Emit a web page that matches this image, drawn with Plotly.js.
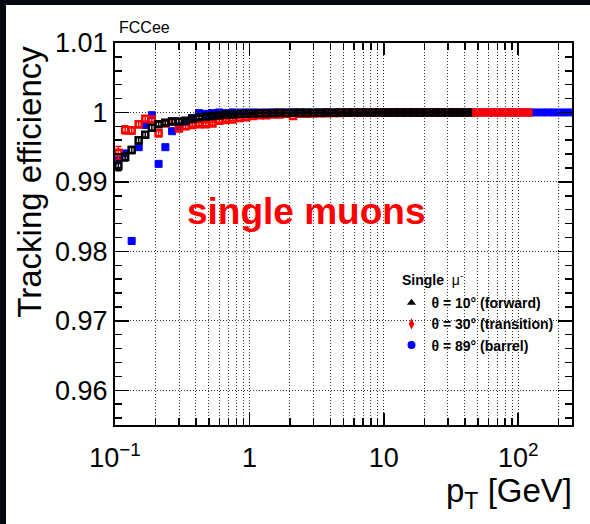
<!DOCTYPE html>
<html>
<head>
<meta charset="utf-8">
<script src="https://cdn.plot.ly/plotly-3.0.1.min.js"></script>
<style>
  html, body { margin: 0; padding: 0; width: 590px; height: 524px; background: #05080f; overflow: hidden; }
  #chart { position: absolute; left: 6px; top: 5px; width: 584px; height: 519px; }
</style>
</head>
<body>
<div id="chart"></div>
<script>
// transverse momentum bin centres [GeV]
const pt = [0.106,0.119,0.133,0.150,0.168,0.188,0.211,0.237,0.266,0.299,
            0.335,0.376,0.422,0.473,0.531,0.596,0.668,0.750,0.841,0.944,
            1.06,1.19,1.33,1.50,1.68,1.88,2.11,2.37,2.66,2.99,
            3.35,3.76,4.22,4.73,5.31,5.96,6.68,7.50,8.41,9.44,
            10.6,11.9,13.3,15.0,16.8,18.8,21.1,23.7,26.6,29.9,
            33.5,37.6,42.2,47.3,53.1,59.6,66.8,75.0,84.1,94.4,
            106,119,133,150,168,188,211,237];

// theta = 10 deg (forward), black
const effForward = [0.9923,0.9936,0.9946,0.9960,0.9968,0.9978,0.9983,0.9985,0.9987,0.9987,
                    0.9988,0.9991,0.9993,0.9994,0.9995,0.9996,0.9997,0.9997,0.9998,0.9998,
                    0.99985,0.9999,0.9999,0.99992,0.99994,0.99993,0.99995,0.99996,0.99995,0.99997,
                    0.99997,0.99998,0.99997,0.99998,0.99998,0.99999,0.99998,0.99999,0.99999,0.99999,
                    0.99999,1.0,0.99999,1.0,1.0,0.99999,1.0,1.0,1.0,1.0,
                    1.0,1.0,1.0];
const errForward = [0.0007,0.0006,0.0005,0.0005,0.0004,0.0004,0.0003,0.0003,0.0003,0.0003,
                    0.0002,0.0002,0.0002,0.0002,0.0002,0.00015,0.00015,0.00012,0.0001,0.0001,
                    0.0001,0.0001,0.0001,0.0001,0.0001,0.0001,0.0001,0.0001,0.0001,0.0001,
                    0.0001,0.0001,0.0001,0.0001,0.0001,0.0001,0.0001,0.0001,0.0001,0.0001,
                    0.0001,0.0001,0.0001,0.0001,0.0001,0.0001,0.0001,0.0001,0.0001,0.0001,
                    0.0001,0.0001,0.0001];

// theta = 30 deg (transition), red
const effTransition = [0.9942,0.9975,0.9974,0.9983,0.9991,0.9990,0.9970,0.9984,0.9987,0.9977,
                       0.9980,0.9982,0.9983,0.9983,0.9984,0.9988,0.9989,0.9990,0.9992,0.9993,
                       0.9995,0.9996,0.9996,0.9997,0.9997,0.9998,0.9995,0.9998,0.9998,0.99985,
                       0.9999,0.9999,0.99992,0.99993,0.99994,0.99995,0.99995,0.99996,0.99996,0.99997,
                       0.99997,0.99998,0.99998,0.99998,0.99999,0.99999,0.99999,1.0,0.99999,1.0,
                       1.0,1.0,1.0,0.99999,1.0,1.0,1.0,0.99999,1.0,1.0,
                       1.0,1.0];
const errTransition = [0.0009,0.0006,0.0005,0.0005,0.0004,0.0004,0.0005,0.0003,0.0003,0.0003,
                       0.0003,0.0002,0.0002,0.0002,0.0002,0.0002,0.00015,0.00015,0.00012,0.0001,
                       0.0001,0.0001,0.0001,0.0001,0.0001,0.0001,0.0001,0.0001,0.0001,0.0001,
                       0.0001,0.0001,0.0001,0.0001,0.0001,0.0001,0.0001,0.0001,0.0001,0.0001,
                       0.0001,0.0001,0.0001,0.0001,0.0001,0.0001,0.0001,0.0001,0.0001,0.0001,
                       0.0001,0.0001,0.0001,0.0001,0.0001,0.0001,0.0001,0.0001,0.0001,0.0001,
                       0.0001,0.0001];

// theta = 89 deg (barrel), blue
const effBarrel = [0.9935,0.9941,0.9815,0.9950,0.9982,0.9996,0.9926,0.9950,0.9973,0.9980,
                   0.9986,0.9992,0.9999,0.9998,0.9999,1.0,0.9999,1.0,0.99998,1.0,
                   1.0,0.99999,1.0,1.0,0.99999,1.0,1.0,1.0,1.0,0.99999,
                   1.0,1.0,1.0,1.0,1.0,1.0,1.0,0.99999,1.0,1.0,
                   1.0,1.0,1.0,1.0,1.0,1.0,1.0,1.0,1.0,1.0,
                   1.0,1.0,1.0,1.0,1.0,1.0,1.0,1.0,1.0,1.0,
                   1.0,1.0,1.0,1.0,1.0,1.0,1.0,1.0];
const errBarrel = [0.0004,0.0004,0.0004,0.0003,0.0003,0.0002,0.0003,0.0003,0.0002,0.0002,
                   0.0002,0.0002,0.0001,0.0001,0.0001,0.0001,0.0001,0.0001,0.0001,0.0001,
                   0.0001,0.0001,0.0001,0.0001,0.0001,0.0001,0.0001,0.0001,0.0001,0.0001,
                   0.0001,0.0001,0.0001,0.0001,0.0001,0.0001,0.0001,0.0001,0.0001,0.0001,
                   0.0001,0.0001,0.0001,0.0001,0.0001,0.0001,0.0001,0.0001,0.0001,0.0001,
                   0.0001,0.0001,0.0001,0.0001,0.0001,0.0001,0.0001,0.0001,0.0001,0.0001,
                   0.0001,0.0001,0.0001,0.0001,0.0001,0.0001,0.0001,0.0001];

const seriesNames = ['<b>θ = 10° (forward)</b>', '<b>θ = 30° (transition)</b>', '<b>θ = 89° (barrel)</b>'];
const xTickVals = [0.1, 1, 10, 100];
const xTickText = ['10<sup>−1</sup>', '1', '10', '10<sup>2</sup>'];
const yTickVals = [0.96, 0.97, 0.98, 0.99, 1.00, 1.01];
const yTickText = ['0.96', '0.97', '0.98', '0.99', '1', '1.01'];

const FONT = '"Liberation Sans", Arial, Helvetica, sans-serif';

function dataTrace(y, err, color, symbol, size, lw) {
  return {
    type: 'scatter', mode: 'markers',
    x: pt.slice(0, y.length), y: y,
    showlegend: false, hoverinfo: 'skip',
    marker: { symbol: symbol, size: size, color: color, line: { color: color, width: lw } },
    error_y: { type: 'data', array: err, visible: true, color: color, thickness: 1.5, width: 3 }
  };
}
function legendTrace(name, color, symbol) {
  return {
    type: 'scatter', mode: 'markers', x: [null], y: [null], name: name,
    marker: { symbol: symbol, size: 8, color: color }
  };
}

const traces = [
  dataTrace(effBarrel, errBarrel, '#0000ff', 'square', 7, 1),
  dataTrace(effTransition, errTransition, '#ff0000', 'square-open', 6, 2.5),
  dataTrace(effForward, errForward, '#000000', 'square-open', 6, 2.5),
  legendTrace(seriesNames[0], '#000000', 'triangle-up'),
  legendTrace(seriesNames[1], '#ff0000', 'diamond-tall'),
  legendTrace(seriesNames[2], '#0000ff', 'circle')
];

const gridStyle = { gridcolor: '#333333', gridwidth: 1, griddash: '1px,2px' };

const layout = {
  width: 584, height: 519,
  margin: { l: 109, r: 18, t: 38, b: 99, pad: 0 },
  paper_bgcolor: '#ffffff', plot_bgcolor: '#ffffff',
  font: { family: FONT, color: '#000000' },
  showlegend: true,
  legend: {
    x: 0.6050, xanchor: 'left', y: 0.361, yanchor: 'top',
    bgcolor: 'rgba(0,0,0,0)', borderwidth: 0,
    font: { family: FONT, size: 14, color: '#000000' },
    itemclick: false, itemdoubleclick: false
  },
  xaxis: {
    type: 'log', range: [-1, 2.4],
    tickmode: 'array', tickvals: xTickVals, ticktext: xTickText,
    ticks: 'inside', ticklen: 12, tickwidth: 1.5, tickcolor: '#000',
    showline: true, linecolor: '#000', linewidth: 2, mirror: 'ticks',
    showgrid: true, ...gridStyle, zeroline: false,
    ticklabelstandoff: 8,
    tickfont: { family: FONT, size: 27, color: '#000' },
    minor: { dtick: 'D1', ticks: 'inside', ticklen: 7, tickwidth: 1.5, tickcolor: '#000',
             showgrid: true, ...gridStyle }
  },
  yaxis: {
    range: [0.955, 1.01],
    tickmode: 'array', tickvals: yTickVals, ticktext: yTickText,
    ticks: 'inside', ticklen: 14, tickwidth: 1.5, tickcolor: '#000',
    showline: true, linecolor: '#000', linewidth: 2, mirror: 'ticks',
    showgrid: true, ...gridStyle, zeroline: false,
    tickfont: { family: FONT, size: 27, color: '#000' },
    minor: { tick0: 0.96, dtick: 0.002, ticks: 'inside', ticklen: 7, tickwidth: 1.5, tickcolor: '#000', showgrid: false }
  },
  annotations: [
    { text: 'FCCee', xref: 'paper', yref: 'paper', x: 0.004, y: 1.012, xanchor: 'left', yanchor: 'bottom',
      showarrow: false, font: { family: FONT, size: 16, color: '#000' } },
    { text: '<b>single muons</b>', xref: 'paper', yref: 'paper', x: 0.417, y: 0.560, xanchor: 'center', yanchor: 'middle',
      showarrow: false, font: { family: FONT, size: 37, color: '#ff0000' } },
    { text: 'Tracking efficiency', xref: 'paper', yref: 'paper', x: -0.186, y: 0.637, xanchor: 'center', yanchor: 'middle',
      textangle: -90, showarrow: false, font: { family: FONT, size: 33, color: '#000' } },
    { text: 'p<sub>T</sub> [GeV]', xref: 'paper', yref: 'paper', x: 1.004, y: -0.118, xanchor: 'right', yanchor: 'top',
      showarrow: false, font: { family: FONT, size: 33, color: '#000' } },
    { text: '<b>Single</b>  μ<sup>-</sup>', xref: 'paper', yref: 'paper', x: 0.6236, y: 0.382, xanchor: 'left', yanchor: 'middle',
      showarrow: false, font: { family: FONT, size: 14, color: '#000' } }
  ]
};

Plotly.newPlot('chart', traces, layout, { staticPlot: true, displayModeBar: false });
</script>
</body>
</html>
